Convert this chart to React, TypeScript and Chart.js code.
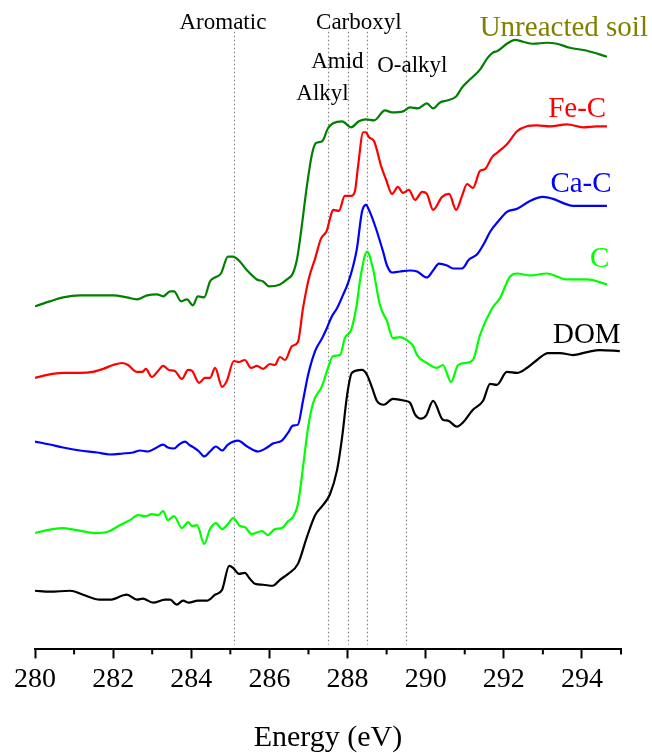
import React, { useEffect, useRef } from "react";
import { Chart, registerables } from "chart.js";

Chart.register(...registerables);

// ---------- Data (energy in eV, normalized absorbance with vertical offset, a.u.) ----------
const soilEnergy = [280.00,280.38,280.72,281.15,281.59,282.00,282.35,282.61,282.87,283.12,283.28,283.46,283.56,283.74,283.89,284.04,284.17,284.33,284.48,284.61,284.76,284.94,285.07,285.22,285.43,285.68,285.84,285.99,286.27,286.45,286.60,286.71,286.83,286.96,287.09,287.19,287.35,287.50,287.63,287.86,288.09,288.29,288.47,288.68,288.96,289.14,289.42,289.60,289.80,290.03,290.19,290.37,290.55,290.78,290.93,291.13,291.39,291.59,291.72,291.85,292.08,292.29,292.49,292.75,293.10,293.36,293.69,294.13,294.64];
const soilValue = [3.45,3.50,3.54,3.56,3.56,3.56,3.54,3.52,3.56,3.57,3.55,3.60,3.60,3.50,3.52,3.46,3.55,3.54,3.70,3.74,3.78,3.95,3.95,3.91,3.81,3.72,3.70,3.65,3.67,3.72,3.78,3.93,4.26,4.66,4.98,5.09,5.11,5.24,5.29,5.31,5.25,5.31,5.33,5.32,5.42,5.40,5.41,5.45,5.44,5.49,5.44,5.50,5.52,5.56,5.65,5.73,5.83,5.95,6.00,6.02,6.09,6.13,6.11,6.09,6.10,6.09,6.05,6.02,5.96];

const feEnergy = [280.00,280.31,280.72,281.15,281.48,281.74,282.00,282.23,282.38,282.61,282.74,282.84,282.99,283.15,283.28,283.43,283.58,283.76,283.92,284.02,284.20,284.35,284.48,284.61,284.79,284.91,285.09,285.22,285.37,285.53,285.68,285.84,286.01,286.14,286.27,286.40,286.58,286.73,286.86,287.01,287.17,287.32,287.47,287.55,287.63,287.78,287.93,288.09,288.19,288.27,288.40,288.47,288.55,288.68,288.86,288.98,289.14,289.29,289.42,289.57,289.73,289.91,290.03,290.19,290.42,290.60,290.78,290.93,291.06,291.21,291.39,291.52,291.70,291.85,292.08,292.34,292.59,292.85,293.18,293.62,294.03,294.38,294.64];
const feValue = [2.73,2.76,2.78,2.78,2.79,2.82,2.86,2.88,2.86,2.79,2.79,2.82,2.74,2.80,2.85,2.81,2.80,2.72,2.81,2.80,2.68,2.73,2.73,2.83,2.64,2.70,2.90,2.89,2.91,2.83,2.85,2.82,2.87,2.86,2.94,2.91,3.05,3.09,3.43,3.73,3.93,4.13,4.21,4.33,4.42,4.41,4.56,4.56,4.61,4.86,5.20,5.20,5.15,5.11,4.86,4.73,4.58,4.65,4.59,4.62,4.52,4.60,4.58,4.42,4.55,4.58,4.42,4.56,4.68,4.64,4.81,4.83,4.95,5.00,5.08,5.21,5.26,5.27,5.26,5.28,5.25,5.26,5.26];

const caEnergy = [280.00,280.38,280.72,281.15,281.59,281.92,282.25,282.51,282.69,282.89,283.07,283.28,283.40,283.56,283.69,283.84,283.94,284.10,284.20,284.33,284.48,284.63,284.79,284.94,285.20,285.43,285.71,285.94,286.09,286.32,286.48,286.60,286.73,286.86,286.99,287.17,287.35,287.47,287.60,287.73,287.88,288.01,288.14,288.24,288.37,288.47,288.57,288.73,288.91,289.01,289.14,289.34,289.60,289.78,290.03,290.19,290.34,290.55,290.70,290.93,291.11,291.31,291.52,291.65,291.85,292.08,292.34,292.67,293.00,293.26,293.51,293.77,294.21,294.64];
const caValue = [2.09,2.06,2.03,2.00,1.98,1.96,1.97,1.98,2.00,1.99,2.02,2.06,2.03,2.02,2.06,2.09,2.06,2.02,1.99,1.94,1.99,2.04,2.00,2.06,2.10,2.04,1.99,2.03,2.07,2.10,2.18,2.25,2.26,2.50,2.76,3.00,3.13,3.23,3.35,3.43,3.56,3.68,3.85,4.03,4.40,4.47,4.40,4.23,4.00,3.86,3.79,3.80,3.81,3.80,3.74,3.81,3.88,3.86,3.83,3.83,3.92,3.97,4.10,4.20,4.30,4.40,4.43,4.51,4.55,4.53,4.49,4.46,4.46,4.46];

const cEnergy = [280.00,280.31,280.69,281.07,281.54,281.84,282.18,282.43,282.64,282.82,282.99,283.15,283.28,283.40,283.56,283.76,283.92,284.02,284.15,284.33,284.48,284.63,284.79,284.94,285.07,285.25,285.37,285.55,285.81,285.96,286.14,286.32,286.48,286.60,286.73,286.86,286.99,287.12,287.35,287.50,287.63,287.81,287.93,288.09,288.22,288.34,288.50,288.65,288.83,289.01,289.16,289.34,289.52,289.68,289.78,290.03,290.29,290.44,290.65,290.83,291.01,291.21,291.39,291.70,291.90,292.16,292.34,292.67,293.10,293.62,294.13,294.64];
const cValue = [1.17,1.20,1.22,1.20,1.17,1.18,1.25,1.30,1.35,1.34,1.36,1.35,1.39,1.30,1.34,1.22,1.28,1.24,1.25,1.06,1.21,1.27,1.21,1.26,1.32,1.24,1.23,1.16,1.19,1.15,1.21,1.22,1.29,1.33,1.46,1.83,2.23,2.48,2.65,2.83,2.95,2.96,3.13,3.21,3.43,3.76,4.00,3.83,3.46,3.30,3.13,3.14,3.11,3.05,2.96,2.88,2.83,2.86,2.69,2.86,2.88,2.91,3.16,3.43,3.53,3.75,3.78,3.76,3.78,3.72,3.72,3.67];

const domEnergy = [280.00,280.38,280.90,281.23,281.66,281.92,282.35,282.61,282.76,283.02,283.33,283.46,283.63,283.79,283.94,284.17,284.40,284.61,284.79,284.97,285.07,285.22,285.37,285.50,285.63,285.84,286.09,286.27,286.48,286.73,286.96,287.17,287.37,287.55,287.73,287.86,287.99,288.11,288.37,288.50,288.63,288.75,288.93,289.16,289.47,289.60,289.73,289.88,290.01,290.19,290.44,290.57,290.80,290.95,291.21,291.47,291.65,291.82,292.08,292.34,292.59,292.85,293.13,293.44,293.77,294.13,294.46,294.97];
const domValue = [0.59,0.58,0.59,0.55,0.50,0.50,0.55,0.50,0.51,0.47,0.50,0.50,0.45,0.49,0.47,0.49,0.49,0.55,0.60,0.84,0.82,0.76,0.77,0.71,0.66,0.65,0.64,0.70,0.76,0.86,1.13,1.35,1.45,1.56,1.80,2.13,2.56,2.78,2.81,2.76,2.63,2.50,2.46,2.52,2.50,2.48,2.36,2.32,2.35,2.50,2.31,2.30,2.24,2.28,2.41,2.50,2.67,2.66,2.79,2.78,2.83,2.91,2.98,2.98,2.96,2.99,3.01,3.00];

// Series labels (text, right-edge energy, baseline value)
const seriesNames = ["Unreacted soil", "Fe-C", "Ca-C", "C", "DOM"];
const seriesLabelEnergy = [295.69, 294.62, 294.76, 294.70, 294.99];
const seriesLabelValue = [6.17, 5.35, 4.60, 3.85, 3.08];

// Functional-group reference energies
const featureEnergy = [285.1, 287.5, 288.0, 288.5, 289.5];
const featureNames = ["Aromatic", "Alkyl", "Amid", "Carboxyl", "O-alkyl"];
const featureLabelEnergy = [284.81, 287.36, 287.74, 288.29, 289.66];
const featureLabelValue = [6.24, 5.52, 5.85, 6.24, 5.81];
const featureLineTop = 6.21;
const featureLineBottom = 0.05;

// Axis
const xMin = 280;
const xMax = 295;
const yMin = 0;
const yMax = 6.53;
const minorTicks = [281, 283, 285, 287, 289, 291, 293, 295];

const lineColors = ["rgb(0,128,0)", "rgb(255,0,0)", "rgb(0,0,255)", "rgb(0,255,0)", "rgb(0,0,0)"];
const labelColors = ["rgb(128,128,0)", "rgb(255,0,0)", "rgb(0,0,255)", "rgb(0,255,0)", "rgb(0,0,0)"];

const FONT = "'Liberation Serif', 'Times New Roman', Times, serif";

function toPoints(xs: number[], ys: number[]) {
  return xs.map((x, i) => ({ x, y: ys[i] }));
}

const annotationPlugin = {
  id: "xanesAnnotations",
  beforeDatasetsDraw(chart: any) {
    const { ctx, scales } = chart;
    const xs = scales.x;
    const ys = scales.y;
    ctx.save();
    ctx.strokeStyle = "#808080";
    ctx.lineWidth = 1.2;
    ctx.setLineDash([1.5, 2.5]);
    featureEnergy.forEach((e) => {
      const px = Math.round(xs.getPixelForValue(e)) + 0.5;
      ctx.beginPath();
      ctx.moveTo(px, ys.getPixelForValue(featureLineTop));
      ctx.lineTo(px, ys.getPixelForValue(featureLineBottom));
      ctx.stroke();
    });
    ctx.restore();
  },
  afterDraw(chart: any) {
    const { ctx, scales } = chart;
    const xs = scales.x;
    const ys = scales.y;
    ctx.save();
    // minor ticks
    ctx.strokeStyle = "#000";
    ctx.lineWidth = 2;
    ctx.setLineDash([]);
    const axisY = chart.chartArea.bottom;
    minorTicks.forEach((v) => {
      const px = xs.getPixelForValue(v);
      ctx.beginPath();
      ctx.moveTo(px, axisY);
      ctx.lineTo(px, axisY + 5);
      ctx.stroke();
    });
    // feature labels
    ctx.fillStyle = "#000";
    ctx.font = `23px ${FONT}`;
    ctx.textAlign = "center";
    ctx.textBaseline = "alphabetic";
    featureNames.forEach((name, i) => {
      ctx.fillText(name, xs.getPixelForValue(featureLabelEnergy[i]), ys.getPixelForValue(featureLabelValue[i]));
    });
    // series labels
    ctx.font = `29px ${FONT}`;
    ctx.textAlign = "right";
    seriesNames.forEach((name, i) => {
      ctx.fillStyle = labelColors[i];
      ctx.fillText(name, xs.getPixelForValue(seriesLabelEnergy[i]), ys.getPixelForValue(seriesLabelValue[i]));
    });
    ctx.restore();
  },
};

export default function App() {
  const canvasRef = useRef<HTMLCanvasElement | null>(null);

  useEffect(() => {
    if (!canvasRef.current) return;
    const series = [
      toPoints(soilEnergy, soilValue),
      toPoints(feEnergy, feValue),
      toPoints(caEnergy, caValue),
      toPoints(cEnergy, cValue),
      toPoints(domEnergy, domValue),
    ];
    const chart = new Chart(canvasRef.current, {
      type: "line",
      data: {
        datasets: series.map((pts, i) => ({
          label: seriesNames[i],
          data: pts,
          borderColor: lineColors[i],
          backgroundColor: lineColors[i],
          borderWidth: 2.2,
          pointRadius: 0,
          fill: false,
          cubicInterpolationMode: "monotone" as const,
        })),
      },
      options: {
        responsive: false,
        animation: false,
        events: [],
        layout: { padding: { left: 35, right: 31, top: 0, bottom: 0 } },
        plugins: {
          legend: { display: false },
          tooltip: { enabled: false },
          title: { display: false },
        },
        scales: {
          x: {
            type: "linear",
            min: xMin,
            max: xMax,
            position: "bottom",
            ticks: {
              stepSize: 2,
              includeBounds: false,
              color: "#000",
              padding: 4,
              maxRotation: 0,
              autoSkip: false,
              font: { family: FONT, size: 28 },
              callback: (v: any) => String(v),
            },
            grid: {
              display: true,
              drawOnChartArea: false,
              drawTicks: true,
              tickLength: 9,
              tickColor: "#000",
              tickWidth: 2,
            },
            border: { display: true, color: "#000", width: 2 },
            title: {
              display: true,
              text: "Energy (eV)",
              color: "#000",
              font: { family: FONT, size: 30, lineHeight: 1.0 },
              padding: { top: 23, bottom: 0 },
            },
          },
          y: {
            type: "linear",
            display: false,
            min: yMin,
            max: yMax,
          },
        },
      },
      plugins: [annotationPlugin],
    });
    return () => chart.destroy();
  }, []);

  return (
    <div style={{ position: "fixed", left: 0, top: 0, width: 652, height: 753, background: "#fff" }}>
      <canvas ref={canvasRef} width={652} height={753} style={{ display: "block" }} />
    </div>
  );
}
